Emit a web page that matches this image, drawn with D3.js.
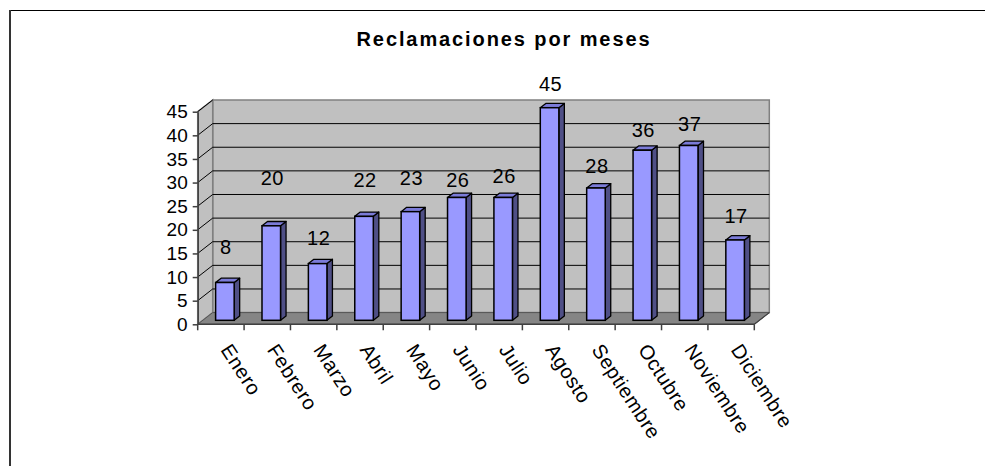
<!DOCTYPE html>
<html>
<head>
<meta charset="utf-8">
<script src="https://cdn.jsdelivr.net/npm/d3@7"></script>
<style>
  body { margin: 0; background: #fff; }
  text { font-family: Arial, "Liberation Sans", sans-serif; }
</style>
</head>
<body>
<svg id="chart"></svg>
<script>
let width = 985;
let height = 466;

const months = ["Enero", "Febrero", "Marzo", "Abril", "Mayo", "Junio", "Julio",
  "Agosto", "Septiembre", "Octubre", "Noviembre", "Diciembre"];
const claims = [8, 20, 12, 22, 23, 26, 26, 45, 28, 36, 37, 17];
// where each value label sits, in axis units
const labelHeights = [16.4, 30.9, 18.2, 30.5, 30.9, 30.5, 31.4, 50.8, 33.5, 41.1, 42.5, 22.9];
const yTicks = [0, 5, 10, 15, 20, 25, 30, 35, 40, 45];
const chartTitle = "Reclamaciones por meses";

// 3d offsets
let wall = { dx: 15, dy: -11.7 };
let barShift = { dx: 4, dy: -4 };
let barDepth = { dx: 5.5, dy: -4.3 };

let svg = d3.select("svg#chart")
  .attr("width", width)
  .attr("height", height);

let x = d3.scaleBand().domain(months).range([197.7, 754.3]).padding(0);
let y = d3.scaleLinear().domain([0, 45]).range([324.3, 111.7]);

let x0 = x.range()[0];
let x1 = x.range()[1];
let y0 = y(0);
let yTop = y(45);

// frame
svg.append("line")
  .attr("x1", 10).attr("y1", 10.5).attr("x2", width).attr("y2", 10.5)
  .attr("stroke", "#000").attr("stroke-width", 1);
svg.append("line")
  .attr("x1", 10).attr("y1", 10).attr("x2", 10).attr("y2", height)
  .attr("stroke", "#333").attr("stroke-width", 2);

// title
svg.append("text")
  .attr("x", 504).attr("y", 46)
  .attr("text-anchor", "middle")
  .style("font-size", "20px")
  .style("font-weight", "bold")
  .style("letter-spacing", "1.9px")
  .text(chartTitle);

let poly = (pts) => "M" + pts.map((p) => p.join(",")).join("L") + "Z";

// back wall
svg.append("path")
  .attr("d", poly([[x0 + wall.dx, y0 + wall.dy], [x0 + wall.dx, yTop + wall.dy],
    [x1 + wall.dx, yTop + wall.dy], [x1 + wall.dx, y0 + wall.dy]]))
  .attr("fill", "#c0c0c0")
  .attr("stroke", "#808080")
  .attr("stroke-width", 1.5);

// side wall
svg.append("path")
  .attr("d", poly([[x0, y0], [x0, yTop], [x0 + wall.dx, yTop + wall.dy], [x0 + wall.dx, y0 + wall.dy]]))
  .attr("fill", "#c0c0c0")
  .attr("stroke", "#808080")
  .attr("stroke-width", 1.5);

// floor
svg.append("path")
  .attr("d", poly([[x0, y0], [x1, y0], [x1 + wall.dx, y0 + wall.dy], [x0 + wall.dx, y0 + wall.dy]]))
  .attr("fill", "#858585")
  .attr("stroke", "#555")
  .attr("stroke-width", 1);

// gridlines
let grid = svg.append("g");
yTicks.filter((t) => t > 0 && t < 45).forEach((t) => {
  grid.append("line")
    .attr("x1", x0 + wall.dx).attr("x2", x1 + wall.dx)
    .attr("y1", y(t) + wall.dy).attr("y2", y(t) + wall.dy)
    .attr("stroke", "#000").attr("stroke-width", 1);
});
yTicks.filter((t) => t > 0).forEach((t) => {
  grid.append("line")
    .attr("x1", x0).attr("x2", x0 + wall.dx)
    .attr("y1", y(t)).attr("y2", y(t) + wall.dy)
    .attr("stroke", "#000").attr("stroke-width", 1);
});

// bars
let bw = x.bandwidth() * 0.4;
let bars = svg.append("g")
  .selectAll("g.bar")
  .data(claims)
  .join("g")
  .attr("class", "bar");

bars.each(function (d, i) {
  let g = d3.select(this);
  let left = x(months[i]) + x.bandwidth() * 0.3 + barShift.dx;
  let right = left + bw;
  let top = y(d) + barShift.dy;
  let bottom = y(0) + barShift.dy;

  g.append("path")
    .attr("d", poly([[right, bottom], [right, top], [right + barDepth.dx, top + barDepth.dy],
      [right + barDepth.dx, bottom + barDepth.dy]]))
    .attr("fill", "#4f4f86")
    .attr("stroke", "#000").attr("stroke-width", 1.3).attr("stroke-linejoin", "round");

  g.append("path")
    .attr("d", poly([[left, top], [right, top], [right + barDepth.dx, top + barDepth.dy],
      [left + barDepth.dx, top + barDepth.dy]]))
    .attr("fill", "#7b7bd8")
    .attr("stroke", "#000").attr("stroke-width", 1.3).attr("stroke-linejoin", "round");

  g.append("rect")
    .attr("x", left).attr("y", top)
    .attr("width", bw).attr("height", bottom - top)
    .attr("fill", "#9999ff")
    .attr("stroke", "#000").attr("stroke-width", 1.5);
});

// value labels
svg.append("g")
  .selectAll("text")
  .data(claims)
  .join("text")
  .attr("x", (d, i) => x(months[i]) + x.bandwidth() / 2 + barShift.dx + 1)
  .attr("y", (d, i) => y(labelHeights[i]))
  .attr("dy", "0.35em")
  .attr("text-anchor", "middle")
  .style("font-size", "20px")
  .style("letter-spacing", "0.5px")
  .text((d) => d);

// y axis
svg.append("g")
  .attr("transform", `translate(${x0}, 0)`)
  .call(d3.axisLeft(y).tickValues(yTicks).tickSize(5).tickPadding(5).tickSizeOuter(0))
  .call((g) => g.selectAll("path, line").attr("stroke", "#404040").attr("stroke-width", 1.5))
  .call((g) => g.selectAll("text").attr("fill", "#000").style("font-size", "19px")
    .style("font-family", "Arial, 'Liberation Sans', sans-serif"));

// x axis: ticks on category boundaries
let xAxis = svg.append("g");
xAxis.append("line")
  .attr("x1", x0).attr("x2", x1).attr("y1", y0).attr("y2", y0)
  .attr("stroke", "#404040").attr("stroke-width", 1.5);
months.concat([null]).forEach((m) => {
  let px = m === null ? x1 : x(m);
  xAxis.append("line")
    .attr("x1", px).attr("x2", px).attr("y1", y0).attr("y2", y0 + 6)
    .attr("stroke", "#404040").attr("stroke-width", 1.5);
});
xAxis.append("line")
  .attr("x1", x1).attr("x2", x1 + wall.dx).attr("y1", y0).attr("y2", y0 + wall.dy)
  .attr("stroke", "#404040").attr("stroke-width", 1.2);

xAxis.selectAll("text")
  .data(months)
  .join("text")
  .attr("transform", (d) => `translate(${x(d) + x.bandwidth() / 2 + 5}, 346) rotate(57)`)
  .attr("dy", "0.35em")
  .attr("text-anchor", "start")
  .style("font-size", "20px")
  .style("letter-spacing", "0.6px")
  .text((d) => d);
</script>
</body>
</html>
